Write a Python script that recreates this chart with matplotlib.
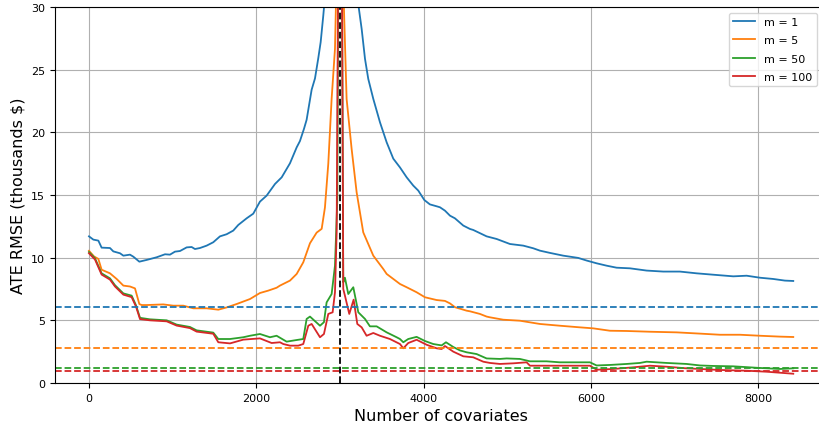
"""ATE RMSE vs number of covariates for several m values."""

import numpy as np
import matplotlib
matplotlib.use('Agg')
import matplotlib.pyplot as plt

# m = 1
x_m1 = [0, 52, 112, 151, 251, 291, 371, 411, 490, 530, 602, 690, 809, 909, 968,
        1028, 1088, 1168, 1227, 1267, 1327, 1407, 1486, 1566, 1646, 1725, 1785,
        1885, 1964, 2044, 2124, 2224, 2304, 2403, 2483, 2522, 2570, 2602, 2662,
        2702, 2741, 2770, 2801, 2850, 3000, 3180, 3220, 3260, 3300, 3339, 3399,
        3479, 3559, 3638, 3718, 3798, 3877, 3937, 4009, 4076, 4156, 4196, 4256,
        4316, 4375, 4475, 4555, 4594, 4754, 4874, 5033, 5192, 5311, 5391, 5511,
        5670, 5849, 5950, 6069, 6189, 6308, 6467, 6667, 6866, 7065, 7265, 7464,
        7703, 7863, 8022, 8181, 8320, 8420]
y_m1 = [11.7, 11.44, 11.36, 10.8, 10.77, 10.5, 10.35, 10.16, 10.24, 10.08, 9.68,
        9.82, 10.03, 10.27, 10.24, 10.48, 10.53, 10.82, 10.85, 10.69, 10.77,
        10.96, 11.23, 11.7, 11.87, 12.16, 12.61, 13.14, 13.51, 14.47, 14.95,
        15.88, 16.41, 17.53, 18.8, 19.3, 20.27, 21.0, 23.4, 24.3, 25.9, 27.2,
        29.3, 33.0, 100.0, 33.0, 30.2, 28.25, 25.86, 24.26, 22.67, 20.8, 19.2,
        17.9, 17.2, 16.41, 15.75, 15.35, 14.6, 14.25, 14.1, 14.02, 13.75, 13.35,
        13.14, 12.56, 12.29, 12.21, 11.7, 11.49, 11.09, 10.96, 10.75, 10.56,
        10.38, 10.16, 9.98, 9.77, 9.55, 9.36, 9.2, 9.15, 8.97, 8.89, 8.89, 8.75,
        8.64, 8.51, 8.56, 8.4, 8.3, 8.17, 8.14]

# m = 5
x_m5 = [0, 60, 112, 151, 251, 331, 411, 490, 550, 602, 630, 690, 889, 1008, 1128,
        1247, 1407, 1546, 1646, 1765, 1925, 2044, 2143, 2243, 2283, 2403, 2483,
        2562, 2642, 2722, 2782, 2821, 2861, 2901, 2941, 2965, 3000, 3030, 3080,
        3140, 3200, 3279, 3399, 3518, 3559, 3718, 3798, 3917, 4017, 4156, 4256,
        4316, 4375, 4515, 4555, 4674, 4754, 4794, 4953, 5152, 5391, 5630, 5870,
        6029, 6228, 6428, 6707, 7026, 7305, 7544, 7783, 8022, 8261, 8420]
y_m5 = [10.55, 10.1, 9.9, 9.04, 8.75, 8.3, 7.77, 7.7, 7.55, 6.3, 6.22, 6.22, 6.27,
        6.17, 6.17, 5.96, 5.96, 5.85, 6.03, 6.3, 6.7, 7.18, 7.37, 7.6, 7.77,
        8.17, 8.7, 9.63, 11.15, 12.0, 12.3, 14.0, 17.5, 22.67, 26.66, 34.0,
        100.0, 34.0, 22.67, 18.68, 15.21, 12.02, 10.16, 9.1, 8.7, 7.9, 7.64,
        7.24, 6.84, 6.62, 6.55, 6.35, 6.05, 5.77, 5.72, 5.51, 5.3, 5.24, 5.05,
        4.97, 4.71, 4.57, 4.44, 4.36, 4.17, 4.15, 4.09, 4.04, 3.94, 3.85, 3.85,
        3.77, 3.7, 3.67]

# m = 50
x_m50 = [0, 72, 151, 251, 311, 411, 510, 562, 610, 729, 929, 1048, 1207, 1287,
         1486, 1546, 1606, 1686, 1845, 1925, 2044, 2164, 2243, 2363, 2483, 2562,
         2602, 2642, 2762, 2809, 2841, 2901, 2941, 2969, 2985, 3000, 3020, 3040,
         3060, 3100, 3160, 3220, 3300, 3359, 3439, 3559, 3678, 3718, 3758, 3817,
         3917, 4017, 4116, 4216, 4268, 4356, 4435, 4515, 4634, 4754, 4913, 4993,
         5152, 5272, 5471, 5630, 5790, 5989, 6069, 6228, 6428, 6587, 6667, 6906,
         7145, 7305, 7464, 7703, 8022, 8261, 8420]
y_m50 = [10.45, 9.95, 8.75, 8.35, 7.8, 7.15, 6.97, 6.2, 5.2, 5.08, 5.0, 4.66, 4.47,
         4.2, 4.02, 3.51, 3.51, 3.51, 3.65, 3.77, 3.91, 3.65, 3.77, 3.3, 3.43,
         3.51, 5.11, 5.3, 4.57, 4.85, 6.43, 7.1, 9.36, 14.68, 40.0, 100.0, 40.0,
         8.03, 8.4, 7.1, 7.64, 5.64, 5.11, 4.52, 4.52, 4.04, 3.65, 3.51, 3.25,
         3.51, 3.68, 3.35, 3.11, 3.0, 3.25, 2.87, 2.6, 2.45, 2.31, 1.96, 1.92,
         1.96, 1.92, 1.73, 1.73, 1.65, 1.65, 1.65, 1.4, 1.44, 1.52, 1.6, 1.7,
         1.6, 1.52, 1.4, 1.36, 1.33, 1.2, 1.12, 1.17]

# m = 100
x_m100 = [0, 72, 151, 251, 311, 411, 510, 562, 610, 729, 929, 1048, 1207, 1287,
          1486, 1546, 1686, 1845, 1925, 2044, 2184, 2283, 2323, 2403, 2502, 2562,
          2622, 2662, 2762, 2809, 2861, 2913, 2941, 2961, 2985, 3000, 3020, 3040,
          3060, 3112, 3164, 3208, 3260, 3319, 3399, 3479, 3598, 3718, 3758, 3817,
          3917, 4037, 4156, 4216, 4256, 4356, 4475, 4594, 4714, 4794, 4913, 5073,
          5232, 5272, 5511, 5710, 5989, 6069, 6268, 6507, 6707, 6906, 7145, 7305,
          7544, 7863, 8101, 8420]
y_m100 = [10.35, 9.85, 8.65, 8.25, 7.7, 7.05, 6.85, 6.1, 5.1, 5.0, 4.92, 4.58, 4.38,
          4.1, 3.93, 3.25, 3.16, 3.46, 3.5, 3.56, 3.19, 3.25, 3.11, 2.98, 2.98,
          3.11, 4.57, 4.71, 3.65, 3.91, 5.51, 5.64, 7.24, 12.0, 40.0, 100.0, 40.0,
          7.5, 6.97, 5.51, 6.65, 4.71, 4.44, 3.77, 3.99, 3.77, 3.51, 3.11, 2.77,
          3.19, 3.45, 3.05, 2.77, 2.71, 2.95, 2.5, 2.13, 2.05, 1.7, 1.6, 1.52,
          1.57, 1.65, 1.38, 1.38, 1.38, 1.38, 1.06, 1.12, 1.25, 1.38, 1.3, 1.17,
          1.12, 1.04, 0.98, 0.9, 0.74]

# reference RMSE levels (dashed)
baselines = [6.05, 2.79, 1.22, 0.94]
labels = ['m = 1', 'm = 5', 'm = 50', 'm = 100']
n_samples = 3000

colors = ['tab:blue', 'tab:orange', 'tab:green', 'tab:red']

fig = plt.figure(figsize=(8.2, 4.27), dpi=100)
ax = fig.add_axes([0.0671, 0.1007, 0.9414, 0.8806])

series = [(x_m1, y_m1), (x_m5, y_m5), (x_m50, y_m50), (x_m100, y_m100)]
for (xs, ys), lab, c in zip(series, labels, colors):
    ax.plot(xs, ys, color=c, label=lab, linewidth=1.3)

for b, c in zip(baselines, colors):
    ax.axhline(b, color=c, linestyle='--', linewidth=1.3)

ax.axvline(n_samples, color='black', linestyle='--', linewidth=1.3)

ax.set_xlim(-406, 8823)
ax.set_ylim(0, 30)
ax.grid(True)
ax.set_axisbelow(True)
ax.tick_params(labelsize=8)
ax.set_xlabel('Number of covariates', fontsize=11.5)
ax.set_ylabel('ATE RMSE (thousands $)', fontsize=11.5)
# the axes runs slightly past the figure edge, so pull the legend in a bit
ax.legend(loc='upper right', fontsize=8, bbox_to_anchor=(0.994, 1.0),
          labelspacing=0.75)

fig.savefig('out.png', dpi=100)
